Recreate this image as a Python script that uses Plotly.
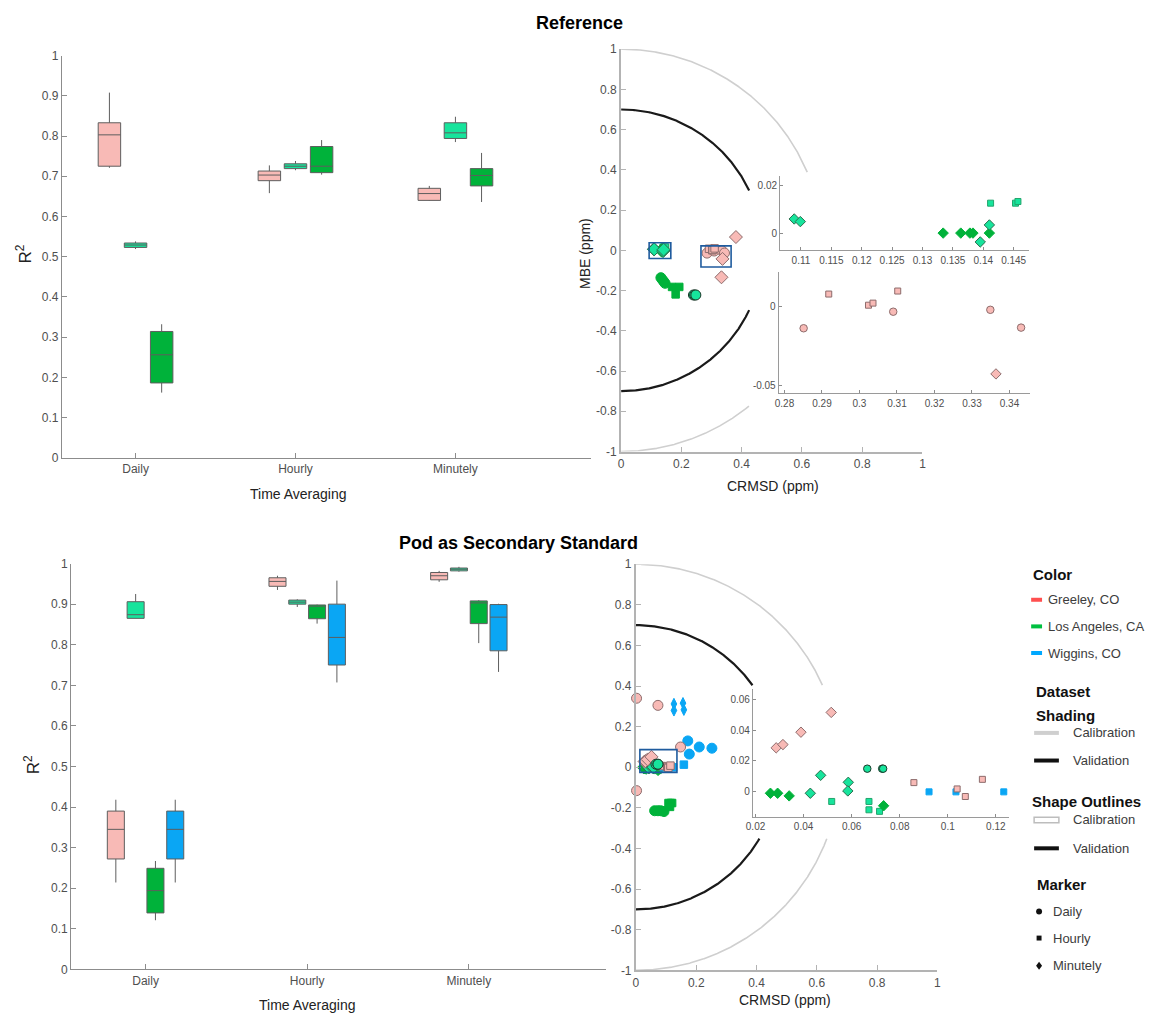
import numpy as np
import plotly.graph_objects as go

W, H = 1155, 1022
FONT = "Liberation Sans, Arial, sans-serif"

# ---------------- R^2 box summaries ----------------
periods = ["Daily", "Hourly", "Minutely"]

# Reference panel
ref_gre_q1 = [0.725, 0.689, 0.640]
ref_gre_med = [0.803, 0.703, 0.657]
ref_gre_q3 = [0.833, 0.713, 0.670]
ref_gre_lo = [0.721, 0.658, 0.639]
ref_gre_hi = [0.908, 0.727, 0.676]

ref_lac_q1 = [0.523, 0.719, 0.794]
ref_lac_med = [0.529, 0.725, 0.808]
ref_lac_q3 = [0.534, 0.731, 0.833]
ref_lac_lo = [0.519, 0.715, 0.785]
ref_lac_hi = [0.538, 0.738, 0.848]

ref_lav_q1 = [0.186, 0.709, 0.676]
ref_lav_med = [0.256, 0.725, 0.702]
ref_lav_q3 = [0.314, 0.774, 0.719]
ref_lav_lo = [0.162, 0.704, 0.636]
ref_lav_hi = [0.332, 0.790, 0.758]

# Pod as secondary standard panel
pod_gre_q1 = [0.272, 0.944, 0.960]
pod_gre_med = [0.345, 0.956, 0.970]
pod_gre_q3 = [0.390, 0.965, 0.978]
pod_gre_lo = [0.214, 0.935, 0.955]
pod_gre_hi = [0.418, 0.970, 0.982]

pod_lac_q1 = [0.865, 0.900, 0.982]
pod_lac_med = [0.874, 0.905, 0.986]
pod_lac_q3 = [0.906, 0.910, 0.989]
pod_lac_lo = [0.865, 0.893, 0.980]
pod_lac_hi = [0.925, 0.912, 0.992]

pod_lav_q1 = [0.139, 0.864, 0.852]
pod_lav_med = [0.194, 0.895, 0.903]
pod_lav_q3 = [0.249, 0.898, 0.908]
pod_lav_lo = [0.121, 0.852, 0.804]
pod_lav_hi = [0.267, 0.899, 0.910]

pod_wig_q1 = [0.272, 0.750, 0.785]
pod_wig_med = [0.345, 0.818, 0.868]
pod_wig_q3 = [0.390, 0.900, 0.899]
pod_wig_lo = [0.214, 0.707, 0.733]
pod_wig_hi = [0.418, 0.958, 0.901]

# ---------------- Target diagram points (CRMSD, MBE) ----------------
# Reference panel
ref_la_daily_val_x = [0.132, 0.137, 0.142, 0.146]
ref_la_daily_val_y = [-0.136, -0.146, -0.156, -0.164]
ref_la_daily_cal_x = [0.240, 0.244, 0.248]
ref_la_daily_cal_y = [-0.222, -0.222, -0.222]
ref_la_hourly_val_x = [0.169, 0.193, 0.181]
ref_la_hourly_val_y = [-0.182, -0.182, -0.219]
ref_la_hourly_cal_x = [0.1412, 0.1453, 0.1457]
ref_la_hourly_cal_y = [0.0125, 0.0125, 0.0132]
ref_la_min_val_x = [0.1334, 0.1363, 0.1378, 0.1383, 0.1410]
ref_la_min_val_y = [0.0, 0.0, 0.0, 0.0, 0.0]
ref_la_min_cal_x = [0.1089, 0.1099, 0.1395, 0.1410]
ref_la_min_cal_y = [0.0059, 0.0048, -0.0037, 0.0034]
ref_gre_daily_x = [0.2851, 0.3090, 0.3349, 0.3431]
ref_gre_daily_y = [-0.0139, -0.0035, -0.0023, -0.0135]
ref_gre_hourly_x = [0.2918, 0.3024, 0.3036, 0.3102]
ref_gre_hourly_y = [0.0076, 0.0006, 0.0019, 0.0095]
ref_gre_min_x = [0.3364, 0.333, 0.381]
ref_gre_min_y = [-0.0426, -0.134, 0.066]

# Pod panel
pod_gre_daily_x = [0.002, 0.073, 0.148, 0.002]
pod_gre_daily_y = [0.340, 0.305, 0.100, -0.115]
pod_gre_hourly_x = [0.0859, 0.1039, 0.1073, 0.1144]
pod_gre_hourly_y = [0.0060, 0.0019, -0.0030, 0.0081]
pod_gre_min_x = [0.0286, 0.0314, 0.0389, 0.0515]
pod_gre_min_y = [0.0285, 0.0306, 0.0386, 0.0514]
pod_wig_daily_x = [0.172, 0.210, 0.252, 0.177]
pod_wig_daily_y = [0.130, 0.100, 0.094, 0.065]
pod_wig_hourly_x = [0.0922, 0.1034, 0.1233, 0.159]
pod_wig_hourly_y = [0.0, 0.0, 0.0, 0.013]
pod_wig_min_x = [0.126, 0.126, 0.156, 0.159]
pod_wig_min_y = [0.312, 0.280, 0.316, 0.283]
pod_la_daily_val_x = [0.062, 0.073, 0.082, 0.093]
pod_la_daily_val_y = [-0.214, -0.214, -0.214, -0.218]
pod_la_daily_cal_x = [0.0665, 0.0727, 0.0731]
pod_la_daily_cal_y = [0.0150, 0.0150, 0.0150]
pod_la_hourly_val_x = [0.108, 0.115, 0.120, 0.113]
pod_la_hourly_val_y = [-0.176, -0.176, -0.176, -0.195]
pod_la_hourly_cal_x = [0.0517, 0.0672, 0.0672, 0.0716]
pod_la_hourly_cal_y = [-0.0062, -0.0062, -0.0116, -0.0126]
pod_la_min_val_x = [0.0262, 0.0292, 0.0340, 0.0733]
pod_la_min_val_y = [-0.0009, -0.0009, -0.0026, -0.0090]
pod_la_min_cal_x = [0.0428, 0.0471, 0.0586, 0.0584]
pod_la_min_cal_y = [-0.0009, 0.0107, 0.0062, 0.0006]

# Zoom windows marked on the target diagrams: [x0, x1, y0, y1]
ref_zoom_boxes = [[0.093, 0.165, -0.041, 0.038], [0.265, 0.365, -0.083, 0.022]]
pod_zoom_boxes = [[0.013, 0.136, -0.025, 0.087]]

# Target circle radii
cal_radius = 1.0
val_radius = 0.7

# Tick values
box_ticks = [0, 0.1, 0.2, 0.3, 0.4, 0.5, 0.6, 0.7, 0.8, 0.9, 1]
tgt_xticks = [0, 0.2, 0.4, 0.6, 0.8, 1]
tgt_yticks = [-1, -0.8, -0.6, -0.4, -0.2, 0, 0.2, 0.4, 0.6, 0.8, 1]
inA_xt = [0.11, 0.115, 0.12, 0.125, 0.13, 0.135, 0.14, 0.145]
inA_yt = [0, 0.02]
inB_xt = [0.28, 0.29, 0.3, 0.31, 0.32, 0.33, 0.34]
inB_yt = [-0.05, 0]
inC_xt = [0.02, 0.04, 0.06, 0.08, 0.1, 0.12]
inC_yt = [0, 0.02, 0.04, 0.06]

# ---------------- styling ----------------
PINK = "#F8BAB6"
MINT = "#17E49C"
GREEN = "#00B23A"
BLUE = "#0AA6F4"
PINK_EDGE = "#8d6c6c"
DARK_EDGE = "#1d3a2b"
MINT_EDGE = "#22a56c"
AX = "#8c8c8c"
TXT = "#4f4f4f"

# Panel placement in pixels: (left, right), (top, bottom)
TOP_BOX = ((55.5, 590.0), (49.3, 457.0))
TOP_TGT = ((620.0, 924.3), (42.7, 450.7))
TOP_INA = ((780.7, 1031.7), (171.7, 246.7))
TOP_INB = ((779.3, 1033.3), (268.3, 391.7))
BOT_BOX = ((64.8, 605.0), (564.3, 975.7))
BOT_TGT = ((635.0, 939.3), (565.0, 976.7))
BOT_INC = ((753.3, 1011.7), (691.7, 821.0))


def xdom(p):
    return [p[0][0] / W, p[0][1] / W]


def ydom(p):
    return [1 - p[1][1] / H, 1 - p[1][0] / H]


fig = go.Figure()


# ---------------- box plots ----------------
def add_box(q1, med, q3, lo, hi, fill, xa, ya, grp, off):
    fig.add_trace(go.Box(
        x=periods, q1=q1, median=med, q3=q3, lowerfence=lo, upperfence=hi,
        fillcolor=fill, line=dict(color="#5e5e5e", width=1), whiskerwidth=0,
        boxpoints=False, xaxis=xa, yaxis=ya, alignmentgroup=grp, offsetgroup=off,
        hoverinfo="skip"))


add_box(ref_gre_q1, ref_gre_med, ref_gre_q3, ref_gre_lo, ref_gre_hi, PINK, "x", "y", "ref", "g")
add_box(ref_lac_q1, ref_lac_med, ref_lac_q3, ref_lac_lo, ref_lac_hi, MINT, "x", "y", "ref", "lc")
add_box(ref_lav_q1, ref_lav_med, ref_lav_q3, ref_lav_lo, ref_lav_hi, GREEN, "x", "y", "ref", "lv")

add_box(pod_gre_q1, pod_gre_med, pod_gre_q3, pod_gre_lo, pod_gre_hi, PINK, "x5", "y5", "pod", "g")
add_box(pod_lac_q1, pod_lac_med, pod_lac_q3, pod_lac_lo, pod_lac_hi, MINT, "x5", "y5", "pod", "lc")
add_box(pod_lav_q1, pod_lav_med, pod_lav_q3, pod_lav_lo, pod_lav_hi, GREEN, "x5", "y5", "pod", "lv")
add_box(pod_wig_q1, pod_wig_med, pod_wig_q3, pod_wig_lo, pod_wig_hi, BLUE, "x5", "y5", "pod", "w")


# ---------------- target diagrams ----------------
def arc(r, panel, holes, xa, ya, color, width):
    # circle drawn round in screen space, broken where an inset panel sits on top
    (x0, x1), (y0, y1) = panel
    kx = (x1 - x0) / 1.0
    ky = (y1 - y0) / 2.0
    t = np.linspace(-np.pi / 2, np.pi / 2, 1441)
    xs = r * np.cos(t) * ky / kx
    ys = r * np.sin(t)
    sx = x0 + xs * kx
    sy = (y0 + y1) / 2 - ys * ky
    hidden = np.zeros(t.shape, bool)
    for hx0, hx1, hy0, hy1 in holes:
        hidden |= (sx >= hx0) & (sx <= hx1) & (sy >= hy0) & (sy <= hy1)
    xs = np.where(hidden, np.nan, xs)
    ys = np.where(hidden, np.nan, ys)
    fig.add_trace(go.Scatter(x=xs, y=ys, mode="lines", xaxis=xa, yaxis=ya,
                             line=dict(color=color, width=width), hoverinfo="skip"))


def hole(*insets, pad_l=30, pad_r=12, pad_t=4, pad_b=16):
    return (min(p[0][0] for p in insets) - pad_l, max(p[0][1] for p in insets) + pad_r,
            min(p[1][0] for p in insets) - pad_t, max(p[1][1] for p in insets) + pad_b)


top_holes = [hole(TOP_INA, TOP_INB, pad_b=14)]
bot_holes = [hole(BOT_INC, pad_b=22)]

arc(cal_radius, TOP_TGT, top_holes, "x2", "y2", "#cfcfcf", 1.6)
arc(val_radius, TOP_TGT, top_holes, "x2", "y2", "#1a1a1a", 2.2)
arc(cal_radius, BOT_TGT, bot_holes, "x6", "y6", "#cfcfcf", 1.6)
arc(val_radius, BOT_TGT, bot_holes, "x6", "y6", "#1a1a1a", 2.2)

SYM = {"daily": "circle", "hourly": "square", "min": "diamond", "minw": "diamond-tall"}
BIG = {"daily": 10, "hourly": 7.5, "min": 10, "minw": 8}
SMALL = {"daily": 7.5, "hourly": 6, "min": 8, "minw": 7}

ref_groups = [
    (ref_la_daily_val_x, ref_la_daily_val_y, "daily", GREEN, GREEN),
    (ref_la_daily_cal_x, ref_la_daily_cal_y, "daily", MINT, DARK_EDGE),
    (ref_la_hourly_val_x, ref_la_hourly_val_y, "hourly", GREEN, GREEN),
    (ref_la_hourly_cal_x, ref_la_hourly_cal_y, "hourly", MINT, MINT_EDGE),
    (ref_la_min_val_x, ref_la_min_val_y, "min", GREEN, GREEN),
    (ref_la_min_cal_x, ref_la_min_cal_y, "min", MINT, "#2b6e4d"),
    (ref_gre_daily_x, ref_gre_daily_y, "daily", PINK, PINK_EDGE),
    (ref_gre_hourly_x, ref_gre_hourly_y, "hourly", PINK, PINK_EDGE),
    (ref_gre_min_x, ref_gre_min_y, "min", PINK, PINK_EDGE),
]
pod_groups = [
    (pod_la_daily_val_x, pod_la_daily_val_y, "daily", GREEN, GREEN),
    (pod_la_hourly_val_x, pod_la_hourly_val_y, "hourly", GREEN, GREEN),
    (pod_la_hourly_cal_x, pod_la_hourly_cal_y, "hourly", MINT, MINT_EDGE),
    (pod_la_min_val_x, pod_la_min_val_y, "min", GREEN, GREEN),
    (pod_la_min_cal_x, pod_la_min_cal_y, "min", MINT, "#2b6e4d"),
    (pod_wig_daily_x, pod_wig_daily_y, "daily", BLUE, BLUE),
    (pod_wig_hourly_x, pod_wig_hourly_y, "hourly", BLUE, BLUE),
    (pod_wig_min_x, pod_wig_min_y, "minw", BLUE, BLUE),
    (pod_gre_daily_x, pod_gre_daily_y, "daily", PINK, PINK_EDGE),
    (pod_gre_hourly_x, pod_gre_hourly_y, "hourly", PINK, PINK_EDGE),
    (pod_gre_min_x, pod_gre_min_y, "min", PINK, PINK_EDGE),
    (pod_la_daily_cal_x, pod_la_daily_cal_y, "daily", MINT, DARK_EDGE),
]


def add_points(groups, axes, sizes, clip):
    for gx, gy, kind, fill, edge in groups:
        for xa, ya in axes:
            fig.add_trace(go.Scatter(
                x=gx, y=gy, mode="markers", xaxis=xa, yaxis=ya, cliponaxis=clip,
                marker=dict(symbol=SYM[kind], size=sizes[kind], color=fill,
                            line=dict(color=edge, width=1)),
                hoverinfo="skip"))


add_points(ref_groups, [("x2", "y2")], BIG, False)
add_points(ref_groups, [("x3", "y3"), ("x4", "y4")], SMALL, True)
add_points(pod_groups, [("x6", "y6")], BIG, False)
add_points(pod_groups, [("x7", "y7")], SMALL, True)

shapes = []
for bx in ref_zoom_boxes:
    shapes.append(dict(type="rect", xref="x2", yref="y2", x0=bx[0], x1=bx[1], y0=bx[2], y1=bx[3],
                       line=dict(color="#1f5b9e", width=1.6), layer="above"))
for bx in pod_zoom_boxes:
    shapes.append(dict(type="rect", xref="x6", yref="y6", x0=bx[0], x1=bx[1], y0=bx[2], y1=bx[3],
                       line=dict(color="#1f5b9e", width=1.6), layer="above"))


# ---------------- axes ----------------
def fmt(vals):
    return [f"{v:g}" for v in vals]


def base_axis(**kw):
    d = dict(showgrid=False, zeroline=False, showline=True, linecolor=AX, linewidth=1.2,
             ticks="inside", ticklen=5, tickcolor=AX, mirror=False,
             tickfont=dict(family=FONT, size=12, color=TXT), fixedrange=True)
    d.update(kw)
    return d


box_y = dict(range=[0, 1], tickvals=box_ticks, ticktext=fmt(box_ticks))
box_x = dict(type="category", range=[-0.46, 2.85])

tgt_x = dict(range=[0, 1], tickvals=tgt_xticks, ticktext=fmt(tgt_xticks), linecolor="#b3b3b3",
             linewidth=2, tickcolor="#b3b3b3")
tgt_y = dict(range=[-1, 1], tickvals=tgt_yticks, ticktext=fmt(tgt_yticks), linecolor="#b3b3b3",
             linewidth=2, tickcolor="#b3b3b3")
small_font = dict(family=FONT, size=10, color=TXT)


def inset_axis(rng, tv, **kw):
    return base_axis(range=rng, tickvals=tv, ticktext=fmt(tv), tickfont=small_font,
                     ticklen=3, linecolor="#9a9a9a", linewidth=1.4, **kw)


fig.update_layout(
    xaxis=base_axis(domain=xdom(TOP_BOX), anchor="y", **box_x),
    yaxis=base_axis(domain=ydom(TOP_BOX), anchor="x", **box_y),
    xaxis2=base_axis(domain=xdom(TOP_TGT), anchor="y2", **tgt_x),
    yaxis2=base_axis(domain=ydom(TOP_TGT), anchor="x2", **tgt_y),
    xaxis3=inset_axis([0.1066, 0.1475], inA_xt, domain=xdom(TOP_INA), anchor="y3"),
    yaxis3=inset_axis([-0.0072, 0.0237], inA_yt, domain=ydom(TOP_INA), anchor="x3"),
    xaxis4=inset_axis([0.2785, 0.3456], inB_xt, domain=xdom(TOP_INB), anchor="y4"),
    yaxis4=inset_axis([-0.0548, 0.0217], inB_yt, domain=ydom(TOP_INB), anchor="x4"),
    xaxis5=base_axis(domain=xdom(BOT_BOX), anchor="y5", **box_x),
    yaxis5=base_axis(domain=ydom(BOT_BOX), anchor="x5", **box_y),
    xaxis6=base_axis(domain=xdom(BOT_TGT), anchor="y6", **tgt_x),
    yaxis6=base_axis(domain=ydom(BOT_TGT), anchor="x6", **tgt_y),
    xaxis7=inset_axis([0.019, 0.1255], inC_xt, domain=xdom(BOT_INC), anchor="y7"),
    yaxis7=inset_axis([-0.0161, 0.0664], inC_yt, domain=ydom(BOT_INC), anchor="x7"),
)

# ---------------- titles, axis labels ----------------
ann = []


def text(s, x, y, size, bold=False, angle=0, color="#222", xanchor="center", yanchor="middle"):
    ann.append(dict(text=f"<b>{s}</b>" if bold else s, x=x / W, y=1 - y / H, xref="paper",
                    yref="paper", showarrow=False, textangle=angle, xanchor=xanchor,
                    yanchor=yanchor, font=dict(family=FONT, size=size, color=color)))


text("Reference", 578, 16, 18, bold=True, color="#000")
text("Pod as Secondary Standard", 516, 543, 18, bold=True, color="#000")
text("R<sup>2</sup>", 17, 250, 17, angle=-90)
text("R<sup>2</sup>", 26, 768, 17, angle=-90)
text("Time Averaging", 294, 494, 14)
text("Time Averaging", 303, 1012, 14)
text("MBE (ppm)", 583, 250, 14, angle=-90)
text("CRMSD (ppm)", 773, 486, 14)
text("CRMSD (ppm)", 785, 1007, 14)

# ---------------- legend ----------------
LX = 1034
text("Color", LX, 575, 15, bold=True, color="#111", xanchor="left")
for label, col, yy in [("Greeley, CO", "#ff4f4f", 601), ("Los Angeles, CA", "#00c040", 628),
                       ("Wiggins, CO", "#00a8ff", 655)]:
    shapes.append(dict(type="line", xref="paper", yref="paper", x0=LX / W, x1=(LX + 11) / W,
                       y0=1 - yy / H, y1=1 - yy / H, line=dict(color=col, width=4)))
    text(label, LX + 15, yy, 13, color="#3c3c3c", xanchor="left")

text("Dataset", LX + 3, 694, 15, bold=True, color="#111", xanchor="left")
text("Shading", LX + 3, 718, 15, bold=True, color="#111", xanchor="left")
for label, col, yy in [("Calibration", "#cfcfcf", 736), ("Validation", "#111", 764)]:
    shapes.append(dict(type="line", xref="paper", yref="paper", x0=(LX + 3) / W, x1=(LX + 28) / W,
                       y0=1 - yy / H, y1=1 - yy / H, line=dict(color=col, width=4)))
    text(label, LX + 40, yy, 13, color="#3c3c3c", xanchor="left")

text("Shape Outlines", LX - 1, 806, 15, bold=True, color="#111", xanchor="left")
shapes.append(dict(type="rect", xref="paper", yref="paper", x0=(LX + 3) / W, x1=(LX + 28) / W,
                   y0=1 - 827 / H, y1=1 - 821.5 / H, fillcolor="white",
                   line=dict(color="#bdbdbd", width=1.5)))
text("Calibration", LX + 40, 824, 13, color="#3c3c3c", xanchor="left")
shapes.append(dict(type="line", xref="paper", yref="paper", x0=(LX + 3) / W, x1=(LX + 28) / W,
                   y0=1 - 853 / H, y1=1 - 853 / H, line=dict(color="#111", width=4)))
text("Validation", LX + 40, 853, 13, color="#3c3c3c", xanchor="left")

text("Marker", LX + 4, 890, 15, bold=True, color="#111", xanchor="left")
mx = LX + 8
for label, yy in [("Daily", 917), ("Hourly", 944), ("Minutely", 972)]:
    if label == "Daily":
        shapes.append(dict(type="circle", xref="paper", yref="paper", x0=(mx - 3) / W,
                           x1=(mx + 3) / W, y0=1 - (yy + 3) / H, y1=1 - (yy - 3) / H,
                           fillcolor="#111", line=dict(width=0)))
    elif label == "Hourly":
        shapes.append(dict(type="rect", xref="paper", yref="paper", x0=(mx - 2.5) / W,
                           x1=(mx + 2.5) / W, y0=1 - (yy + 2.5) / H, y1=1 - (yy - 2.5) / H,
                           fillcolor="#111", line=dict(width=0)))
    else:
        path = (f"M {mx / W} {1 - (yy - 4) / H} L {(mx + 3) / W} {1 - yy / H} "
                f"L {mx / W} {1 - (yy + 4) / H} L {(mx - 3) / W} {1 - yy / H} Z")
        shapes.append(dict(type="path", xref="paper", yref="paper", path=path,
                           fillcolor="#111", line=dict(width=0)))
    text(label, LX + 20, yy, 13, color="#3c3c3c", xanchor="left")

fig.update_layout(
    width=W, height=H, margin=dict(l=0, r=0, t=0, b=0),
    paper_bgcolor="white", plot_bgcolor="white", showlegend=False,
    boxmode="group", boxgap=0.51, boxgroupgap=0.14,
    annotations=ann, shapes=shapes,
    font=dict(family=FONT),
)

fig.write_html("out.html")
